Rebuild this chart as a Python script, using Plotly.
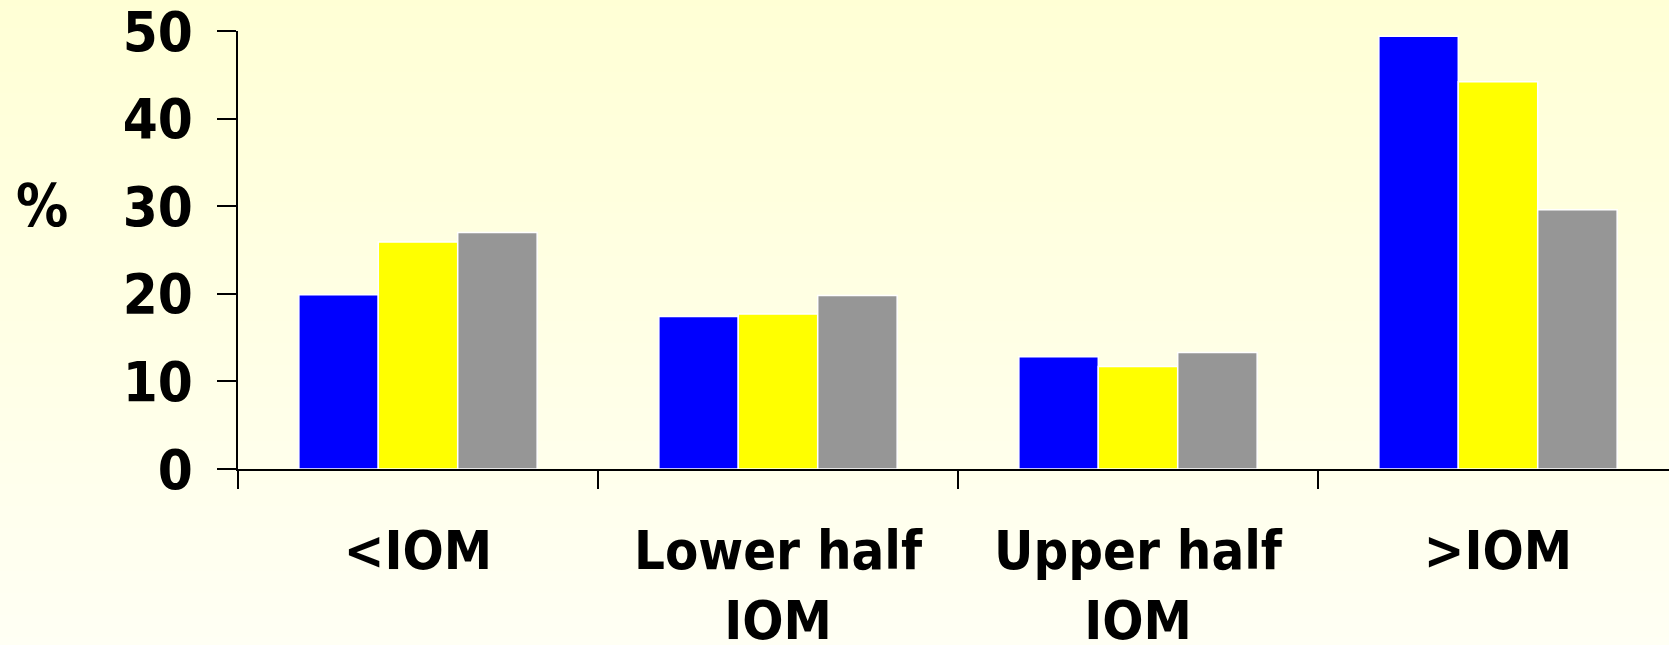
import plotly.graph_objects as go

categories = ["<IOM", "Lower half<br>IOM", "Upper half<br>IOM", ">IOM"]
series_names = ["Series 1", "Series 2", "Series 3"]
blue_vals = [19.9, 17.4, 12.8, 49.4]
yellow_vals = [25.9, 17.7, 11.7, 44.2]
gray_vals = [27.0, 19.8, 13.3, 29.6]
y_ticks = [0, 10, 20, 30, 40, 50]

colors = ["#0000FF", "#FFFF00", "#969696"]
FONT = "DejaVu Sans Condensed, DejaVu Sans, sans-serif"

fig = go.Figure()
for name, vals, c in zip(series_names, [blue_vals, yellow_vals, gray_vals], colors):
    fig.add_trace(go.Bar(
        x=categories, y=vals, name=name,
        marker=dict(color=c, line=dict(color="white", width=1.5)),
        showlegend=False,
    ))

# vertical background gradient
shapes = []
n = 60
top = (255, 255, 213)
bot = (255, 255, 244)
for i in range(n):
    t = i / (n - 1)
    col = tuple(round(top[k] + (bot[k] - top[k]) * t) for k in range(3))
    shapes.append(dict(
        type="rect", xref="paper", yref="paper",
        x0=-0.2, x1=1.05,
        y0=1.08 - (i + 1) * (1.08 + 0.41) / n - 0.002,
        y1=1.08 - i * (1.08 + 0.41) / n + 0.002,
        fillcolor="rgb(%d,%d,%d)" % col, line=dict(width=0), layer="below",
    ))

fig.update_layout(
    width=1669, height=645,
    margin=dict(l=238, r=0, t=31, b=176, autoexpand=False),
    paper_bgcolor="rgb(255,255,228)",
    plot_bgcolor="rgba(0,0,0,0)",
    barmode="group", bargap=0.338, bargroupgap=0,
    shapes=shapes,
    font=dict(family=FONT, size=54, color="black", weight="bold"),
    xaxis=dict(
        range=[-0.5, 3.475], showgrid=False, zeroline=False,
        showline=True, linecolor="black", linewidth=2,
        ticks="outside", ticklen=18, tickwidth=2, tickcolor="black",
        tickson="boundaries", ticklabelstandoff=33, automargin=False,
        ticklabeloverflow="allow",
        tickfont=dict(family=FONT, size=54, color="black", weight="bold"),
    ),
    yaxis=dict(
        range=[0, 50], tickvals=y_ticks, showgrid=False, zeroline=False,
        showline=True, linecolor="black", linewidth=2,
        ticks="outside", ticklen=19, tickwidth=2, tickcolor="black",
        ticklabelstandoff=13, automargin=False, ticklabeloverflow="allow",
        tickfont=dict(family=FONT, size=56, color="black", weight="bold"),
    ),
    annotations=[dict(
        text="%", xref="paper", yref="paper", x=-0.1370, y=0.60,
        xanchor="center", yanchor="middle", showarrow=False,
        font=dict(family=FONT, size=58, color="black", weight="bold"),
    )],
)

fig.write_html(
    "out.html",
    config={"displayModeBar": False},
    post_script="document.body.style.margin='0';document.body.style.overflow='hidden';",
)
